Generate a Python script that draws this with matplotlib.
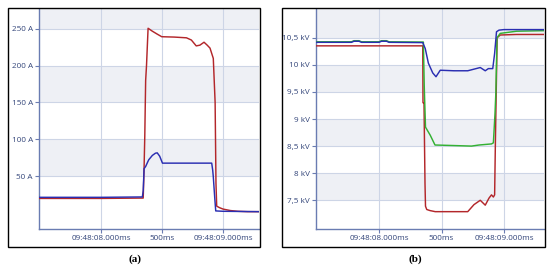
import matplotlib
matplotlib.use("Agg")
import matplotlib.pyplot as plt
from matplotlib.patches import Rectangle

# time in seconds after 09:48:00
t_cur_red = [7.49, 8.0, 8.345, 8.352, 8.358, 8.365, 8.372, 8.385, 8.42, 8.46, 8.497, 8.6, 8.70,
             8.74, 8.78, 8.81, 8.844, 8.87, 8.893, 8.92, 8.935, 8.942, 8.948, 8.97, 9.0, 9.06,
             9.12, 9.2, 9.295]
i_red = [19.5, 19.5, 20.0, 60, 105, 180, 200, 251, 247, 243, 239.5, 239, 238,
         235, 227, 228, 232, 228, 224, 210, 150, 40, 9, 7, 5, 3,
         2, 1.5, 1.5]

t_cur_blue = [7.49, 8.0, 8.338, 8.345, 8.352, 8.365, 8.39, 8.42, 8.445, 8.46, 8.48, 8.503, 8.6,
              8.8, 8.907, 8.915, 8.92, 8.932, 8.94, 9.0, 9.295]
i_blue = [21.0, 21.0, 21.5, 30, 60, 63, 72, 78, 81, 81.5, 77, 67.5, 67.5,
          67.5, 67.5, 58, 49, 20, 2.5, 2, 1.5]

t_volt_red = [7.496, 8.0, 8.35, 8.352, 8.36, 8.368, 8.372, 8.382, 8.408, 8.45, 8.6, 8.71, 8.76,
              8.81, 8.85, 8.88, 8.90, 8.915, 8.925, 8.932, 8.945, 8.97, 9.1, 9.32]
u_red = [10.35, 10.35, 10.35, 9.3, 9.3, 7.81, 7.39, 7.33, 7.31, 7.29, 7.29, 7.29, 7.42,
         7.50, 7.41, 7.54, 7.60, 7.56, 7.6, 8.7, 10.5, 10.55, 10.56, 10.56]

t_volt_green = [7.496, 7.78, 7.8, 7.84, 7.86, 8.0, 8.02, 8.06, 8.08, 8.355, 8.362, 8.372, 8.41,
                8.448, 8.6, 8.74, 8.8, 8.9, 8.915, 8.928, 8.935, 8.944, 8.97, 9.1, 9.32]
u_green = [10.425, 10.425, 10.445, 10.445, 10.425, 10.425, 10.445, 10.445, 10.425, 10.42, 9.6, 8.85, 8.7,
           8.52, 8.51, 8.50, 8.52, 8.54, 8.56, 9.1, 9.5, 10.5, 10.58, 10.62, 10.63]

t_volt_blue = [7.496, 7.78, 7.8, 7.84, 7.86, 8.0, 8.02, 8.06, 8.08, 8.35, 8.37, 8.395, 8.43,
               8.456, 8.49, 8.6, 8.71, 8.76, 8.81, 8.85, 8.875, 8.91, 8.925, 8.94, 8.96, 9.0, 9.32]
u_blue = [10.415, 10.415, 10.435, 10.435, 10.415, 10.415, 10.435, 10.435, 10.415, 10.41, 10.3, 10.03, 9.85,
          9.78, 9.90, 9.89, 9.89, 9.92, 9.95, 9.89, 9.93, 9.93, 10.21, 10.61, 10.64, 10.65, 10.65]

cur_ticks = [50, 100, 150, 200, 250]
cur_labels = ["50 A", "100 A", "150 A", "200 A", "250 A"]
volt_ticks = [7.5, 8.0, 8.5, 9.0, 9.5, 10.0, 10.5]
volt_labels = ["7,5 kV", "8 kV", "8,5 kV", "9 kV", "9,5 kV", "10 kV", "10,5 kV"]
time_ticks = [8.0, 8.5, 9.0]
time_labels = ["09:48:08.000ms", "500ms", "09:48:09.000ms"]

RED = "#b3272b"
BLUE = "#2a2eb2"
GREEN = "#33b133"
GRID = "#cdd5e6"
BAND = "#eef0f5"
SPINE = "#6a7cb2"
TXT = "#34467a"

plt.rcParams['font.family'] = ['Open Sans', 'DejaVu Sans']

fig = plt.figure(figsize=(5.5, 2.69), dpi=100)
W, H = 550.0, 269.0


def px_axes(x0, x1, ytop, ybot):
    return fig.add_axes([x0 / W, 1 - ybot / H, (x1 - x0) / W, (ybot - ytop) / H])


def style(ax, yticks, ylabels, ylim, xlim):
    ax.set_xlim(*xlim)
    ax.set_ylim(*ylim)
    # alternating bands: shaded between every other pair of ticks, and above top tick
    edges = list(yticks) + [ylim[1]]
    for k in range(0, len(edges) - 1, 2):
        ax.axhspan(edges[k], edges[k + 1], color=BAND, lw=0, zorder=0)
    if len(edges) % 2 == 0:
        ax.axhspan(edges[-2], edges[-1], color=BAND, lw=0, zorder=0)
    for y in yticks:
        ax.axhline(y, color=GRID, lw=0.8, zorder=1)
    for x in time_ticks:
        ax.axvline(x, color=GRID, lw=0.8, zorder=1)
    ax.set_yticks(yticks)
    ax.set_yticklabels(ylabels)
    ax.set_xticks(time_ticks)
    ax.set_xticklabels(time_labels)
    ax.tick_params(axis='both', labelsize=5.9, colors=SPINE, labelcolor=TXT,
                   length=3, width=0.8, pad=1.5)
    for s in ("top", "right"):
        ax.spines[s].set_visible(False)
    for s in ("left", "bottom"):
        ax.spines[s].set_color(SPINE)
        ax.spines[s].set_linewidth(1.0)
    ax.set_facecolor("white")


ax1 = px_axes(39, 259, 9, 229)
style(ax1, cur_ticks, cur_labels, (-22.1, 277.2), (7.49, 9.295))
ax1.plot(t_cur_red, i_red, color=RED, lw=1.05, zorder=3)
ax1.plot(t_cur_blue, i_blue, color=BLUE, lw=1.05, zorder=4)

ax2 = px_axes(316, 544, 9, 229)
style(ax2, volt_ticks, volt_labels, (6.97, 11.03), (7.496, 9.32))
ax2.plot(t_volt_red, u_red, color=RED, lw=1.05, zorder=3)
ax2.plot(t_volt_green, u_green, color=GREEN, lw=1.05, zorder=4)
ax2.plot(t_volt_blue, u_blue, color=BLUE, lw=1.05, zorder=5)

# outer frames around each panel
for x0, x1 in [(8, 260), (282, 545)]:
    fig.add_artist(Rectangle((x0 / W, 1 - 247 / H), (x1 - x0) / W, (247 - 8) / H,
                             transform=fig.transFigure, fill=False, ec="black", lw=1.0))

fig.text(135 / W, 1 - 259 / H, "(a)", ha="center", va="center", fontsize=8,
         fontweight="bold", family=["Liberation Serif", "DejaVu Serif"])
fig.text(415 / W, 1 - 259 / H, "(b)", ha="center", va="center", fontsize=8,
         fontweight="bold", family=["Liberation Serif", "DejaVu Serif"])

fig.savefig("out.png", dpi=100)
